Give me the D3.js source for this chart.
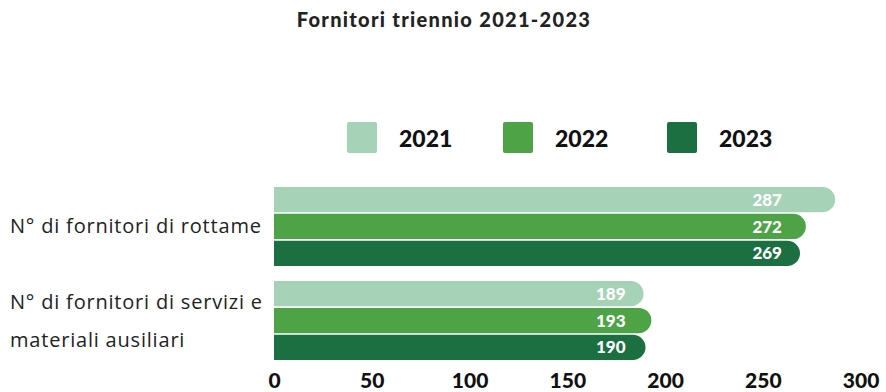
<!DOCTYPE html>
<html>
<head>
<meta charset="utf-8">
<script src="https://cdn.jsdelivr.net/npm/d3@7"></script>
<style>
  html, body { margin: 0; padding: 0; background: #fff; }
  svg { display: block; }
</style>
</head>
<body>
<div id="chart"></div>
<script>
// Supplier counts per category and year
const categories = ["rottame", "servizi"];
const categoryLabels = [
  ["N° di fornitori di rottame"],
  ["N° di fornitori di servizi e", "materiali ausiliari"]
];
const years = ["2021", "2022", "2023"];
const values2021 = [287, 189];
const values2022 = [272, 193];
const values2023 = [269, 190];
const xTicks = [0, 50, 100, 150, 200, 250, 300];
const colors = ["#a6d2b7", "#4ea347", "#1b6f41"];

const width = 886, height = 392;
const boldFont = "Lato, 'Open Sans', sans-serif";
const lightFont = "'Open Sans', Lato, sans-serif";

const series = [values2021, values2022, values2023];
const rows = [];
categories.forEach((c, i) => {
  years.forEach((y, j) => rows.push({ cat: c, year: y, value: series[j][i], ci: i, yi: j }));
});

const svg = d3.select("#chart").append("svg")
  .attr("width", width).attr("height", height);

const x = d3.scaleLinear().domain([0, 300]).range([274, 860.6]);
const y0 = d3.scaleBand().domain(categories).range([187, 360]).paddingInner(0.16).paddingOuter(0);
const y1 = d3.scaleBand().domain(years).range([0, y0.bandwidth()]).paddingInner(0.06);
const color = d3.scaleOrdinal().domain(years).range(colors);

// Title
svg.append("text")
  .attr("x", 444).attr("y", 27)
  .attr("text-anchor", "middle")
  .style("font-family", boldFont).style("font-weight", 900).style("font-size", "20px")
  .style("letter-spacing", "1.3px")
  .attr("fill", "#222")
  .text("Fornitori triennio 2021-2023");

// Legend
const legendX = [347, 503, 667];
const legend = svg.append("g");
years.forEach((yr, i) => {
  const g = legend.append("g").attr("transform", `translate(${legendX[i]},122)`);
  g.append("rect").attr("width", 30).attr("height", 31).attr("rx", 2)
    .attr("fill", color(yr));
  g.append("text").attr("x", 52).attr("y", 25)
    .style("font-family", boldFont).style("font-weight", 900).style("font-size", "23px")
    .attr("fill", "#111").text(yr);
});

// Bars: square left edge, fully rounded right end
function barPath(x0, x1, top, h) {
  const r = Math.min(h / 2, x1 - x0);
  return `M${x0},${top}H${x1 - r}A${r},${r} 0 0 1 ${x1},${top + r}` +
         `V${top + h - r}A${r},${r} 0 0 1 ${x1 - r},${top + h}H${x0}Z`;
}

svg.append("g").selectAll("path").data(rows).join("path")
  .attr("d", d => barPath(x(0), x(d.value), y0(d.cat) + y1(d.year), y1.bandwidth()))
  .attr("fill", d => color(d.year));

// Value labels, right-aligned inside the shortest bar of each group
const labelEnd = categories.map((c, i) => x(d3.min(series, s => s[i])) - 18);
svg.append("g").selectAll("text").data(rows).join("text")
  .attr("x", d => labelEnd[d.ci])
  .attr("y", d => y0(d.cat) + y1(d.year) + y1.bandwidth() / 2)
  .attr("dy", "0.36em")
  .attr("text-anchor", "end")
  .style("font-family", boldFont).style("font-weight", 900).style("font-size", "17px")
  .attr("fill", "#fff")
  .text(d => d.value);

// Category labels
categoryLabels.forEach((lines, i) => {
  const cy = y0(categories[i]) + y0.bandwidth() / 2;
  const n = lines.length;
  lines.forEach((ln, k) => {
    svg.append("text")
      .attr("x", 10)
      .attr("y", cy + (k - (n - 1) / 2) * 38)
      .attr("dy", "0.35em")
      .style("font-family", lightFont).style("font-weight", 400).style("font-size", "20px")
      .style("letter-spacing", "0.8px")
      .attr("fill", "#222")
      .text(ln);
  });
});

// X axis
const axis = svg.append("g").attr("transform", "translate(0,372)")
  .call(d3.axisBottom(x).tickValues(xTicks).tickSize(0).tickPadding(0));
axis.select(".domain").remove();
axis.selectAll("text")
  .attr("y", 16).attr("dy", 0)
  .style("font-family", boldFont).style("font-weight", 900).style("font-size", "21px")
  .attr("fill", "#111");
</script>
</body>
</html>
